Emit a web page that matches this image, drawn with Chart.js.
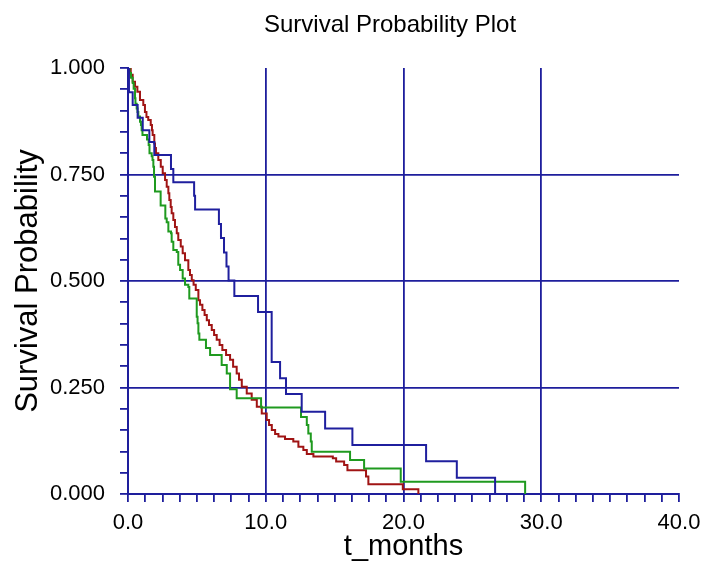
<!DOCTYPE html>
<html>
<head>
<meta charset="utf-8">
<title>Survival Probability Plot</title>
<script src="https://cdn.jsdelivr.net/npm/chart.js@4.4.1/dist/chart.umd.min.js"></script>
<style>
  html, body { margin: 0; padding: 0; background: #fff; }
</style>
</head>
<body>
<canvas id="km" width="704" height="561"></canvas>
<script>
// Kaplan-Meier steps: time of each drop (months) and the new survival level
const blueTimes = [0, 0.07, 0.34, 0.70, 1.07, 1.55, 1.91, 3.12, 3.29, 4.80, 4.87, 6.60, 6.75, 6.97, 7.15, 7.30, 7.72,
  9.44, 10.43, 11.04, 11.47, 12.61, 14.31, 16.29, 21.64, 23.87, 26.65];
const blueSurv = [1, 0.943, 0.913, 0.883, 0.854, 0.826, 0.796, 0.763, 0.732, 0.700, 0.668, 0.634, 0.601, 0.567, 0.534, 0.501, 0.465,
  0.427, 0.310, 0.272, 0.235, 0.193, 0.154, 0.115, 0.077, 0.038, 0];

const redTimes = [0, 0.20, 0.34, 0.51, 0.68, 0.87, 1.11, 1.23, 1.34, 1.47, 1.65, 1.74, 1.79, 1.91, 1.96, 2.03, 2.20, 2.38,
  2.52, 2.69, 2.81, 2.93, 3.00, 3.10, 3.17, 3.29, 3.41, 3.54, 3.65, 3.83, 3.97, 4.14, 4.38, 4.50, 4.63, 4.76, 4.92, 5.11,
  5.23, 5.40, 5.56, 5.72, 5.88, 6.08, 6.25, 6.44, 6.65, 6.85, 7.12, 7.41, 7.63, 7.89, 8.06, 8.26, 8.62, 8.98, 9.35, 9.71,
  10.07, 10.24, 10.44, 10.68, 10.92, 11.40, 12.00, 12.37, 12.73, 12.98, 13.46, 14.87, 15.11, 15.69, 15.93, 17.28, 17.45,
  19.95, 21.08];
const redSurv = [1, 0.984, 0.968, 0.956, 0.944, 0.925, 0.913, 0.897, 0.885, 0.878, 0.866, 0.854, 0.843, 0.823, 0.812, 0.800,
  0.784, 0.768, 0.753, 0.737, 0.721, 0.706, 0.690, 0.674, 0.659, 0.643, 0.627, 0.612, 0.596, 0.581, 0.565, 0.549, 0.526,
  0.514, 0.502, 0.491, 0.479, 0.455, 0.444, 0.432, 0.420, 0.408, 0.397, 0.385, 0.373, 0.362, 0.350, 0.338, 0.326, 0.315,
  0.299, 0.283, 0.268, 0.252, 0.236, 0.221, 0.205, 0.189, 0.174, 0.162, 0.150, 0.141, 0.135, 0.129, 0.123, 0.111, 0.103,
  0.094, 0.088, 0.084, 0.076, 0.068, 0.056, 0.041, 0.023, 0.011, 0];

const greenTimes = [0, 0.11, 0.22, 0.34, 0.41, 0.51, 0.54, 0.63, 0.69, 0.75, 0.87, 0.94, 0.99, 1.05, 1.38, 1.50, 1.56, 1.72,
  1.78, 1.84, 1.89, 1.96, 2.37, 2.71, 2.81, 2.93, 3.12, 3.17, 3.29, 3.54, 3.65, 3.78, 3.97, 4.14, 4.38, 4.45, 4.99, 5.05,
  5.11, 5.18, 5.66, 5.96, 6.80, 7.17, 7.41, 7.89, 9.66, 12.56, 12.98, 13.09, 13.27, 13.34, 16.12, 17.14, 19.80, 28.83];
const greenSurv = [1, 0.988, 0.977, 0.965, 0.951, 0.929, 0.916, 0.905, 0.897, 0.886, 0.874, 0.866, 0.854, 0.843, 0.832,
  0.819, 0.800, 0.793, 0.784, 0.768, 0.745, 0.710, 0.677, 0.647, 0.638, 0.616, 0.612, 0.592, 0.573, 0.568, 0.538, 0.526,
  0.506, 0.491, 0.486, 0.459, 0.416, 0.401, 0.377, 0.362, 0.343, 0.326, 0.303, 0.283, 0.246, 0.225, 0.203, 0.181, 0.162,
  0.142, 0.123, 0.099, 0.080, 0.060, 0.029, 0];

const xMajor = 10;      // labelled / gridded every 10 months
const yMajor = 0.25;    // labelled / gridded every 0.25

const NAVY = '#1e1e9c';
const FONT = '"Liberation Sans", Arial, sans-serif';

const toPoints = (ts, ss) => ts.map((t, i) => ({ x: t, y: ss[i] }));
const isMajor = (v, step) => Math.abs(v / step - Math.round(v / step)) < 1e-6;

// Title and axis titles, placed like the original plot
const plotText = {
  id: 'plotText',
  afterDraw(chart) {
    const { ctx, chartArea: a } = chart;
    ctx.save();
    ctx.fillStyle = '#000';
    ctx.textAlign = 'center';
    ctx.textBaseline = 'middle';
    ctx.font = '24px ' + FONT;
    ctx.fillText('Survival Probability Plot', 390, 25);
    ctx.font = '29px ' + FONT;
    ctx.fillText('t_months', (a.left + a.right) / 2, 547);
    ctx.font = '31px ' + FONT;
    ctx.translate(28, (a.top + a.bottom) / 2);
    ctx.rotate(-Math.PI / 2);
    ctx.fillText('Survival Probability', 0, 0);
    ctx.restore();
  }
};

const line = (pts, color) => ({
  data: pts,
  borderColor: color,
  borderWidth: 2,
  stepped: true,
  pointRadius: 0,
  fill: false
});

new Chart(document.getElementById('km'), {
  type: 'line',
  data: {
    datasets: [
      line(toPoints(blueTimes, blueSurv), '#1f1f9e'),
      line(toPoints(greenTimes, greenSurv), '#1f9a1f'),
      line(toPoints(redTimes, redSurv), '#a01414')
    ]
  },
  plugins: [plotText],
  options: {
    responsive: false,
    animation: false,
    layout: { padding: { top: 68, right: 25, left: 0, bottom: 0 } },
    plugins: { legend: { display: false }, tooltip: { enabled: false } },
    scales: {
      x: {
        type: 'linear',
        min: 0,
        max: 40,
        // fixed axis band; let the last label hang into the right margin
        afterFit: s => { s.height = 67; s.paddingLeft = 0; s.paddingRight = 0; },
        border: { color: NAVY, width: 2 },
        grid: {
          color: c => (isMajor(c.tick.value, xMajor) && c.tick.value > 0 && c.tick.value < 40) ? NAVY : 'rgba(0,0,0,0)',
          tickColor: NAVY,
          tickLength: 8,
          lineWidth: 1.8
        },
        ticks: {
          stepSize: 1.25,
          autoSkip: false,
          maxRotation: 0,
          padding: 8,
          color: '#000',
          font: { family: FONT, size: 22 },
          callback: v => isMajor(v, xMajor) ? v.toFixed(1) : ''
        }
      },
      y: {
        min: 0,
        max: 1,
        afterFit: s => { s.width = 128; s.paddingTop = 0; s.paddingBottom = 0; },
        border: { color: NAVY, width: 2 },
        grid: {
          color: c => (isMajor(c.tick.value, yMajor) && c.tick.value > 0.01 && c.tick.value < 0.99) ? NAVY : 'rgba(0,0,0,0)',
          tickColor: NAVY,
          tickLength: 8,
          lineWidth: 1.8
        },
        ticks: {
          stepSize: 0.05,
          autoSkip: false,
          padding: 15,
          color: '#000',
          font: { family: FONT, size: 22 },
          callback: v => isMajor(v, yMajor) ? v.toFixed(3) : ''
        }
      }
    }
  }
});
</script>
</body>
</html>
